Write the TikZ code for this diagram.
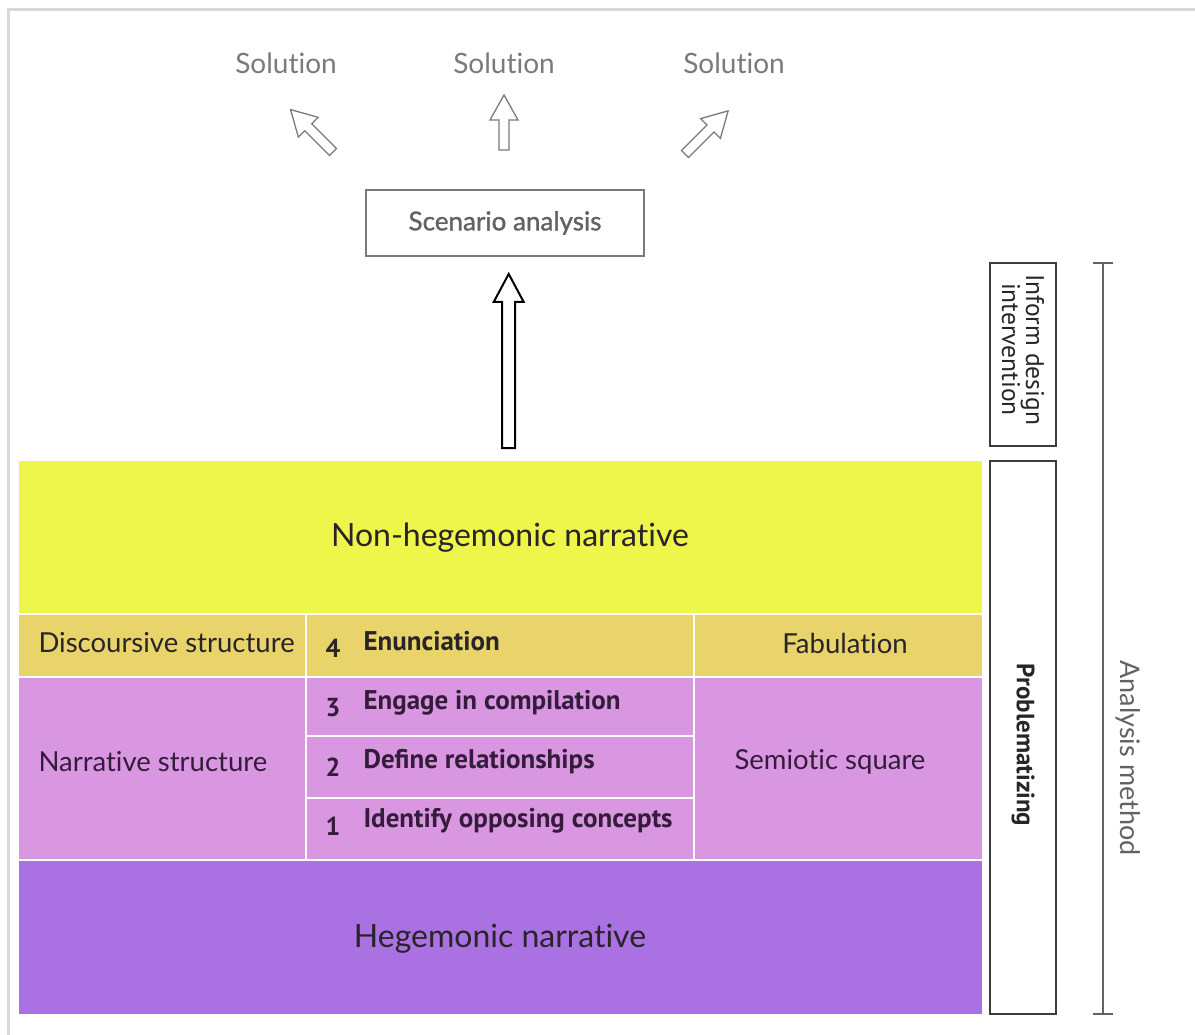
\documentclass[tikz,border=0pt]{standalone}
\usepackage{fontspec}
\usetikzlibrary{calc}
\setmainfont{Lato}[Ligatures={NoCommon}]
\newfontfamily\latosemi{Lato}[Ligatures={NoCommon}, BoldFont={Lato}, BoldFeatures={FakeBold=1.2}]
\newfontfamily\ptsans{PT Sans}
\definecolor{cyellow}{RGB}{238,245,75}
\definecolor{cgold}{RGB}{232,212,106}
\definecolor{cpink}{RGB}{217,151,226}
\definecolor{cpurple}{RGB}{170,113,226}
\definecolor{ctext}{RGB}{40,36,40}
\definecolor{cptext}{RGB}{52,28,58}
\definecolor{cgray}{RGB}{122,122,122}
\definecolor{cframe}{RGB}{216,216,216}
\definecolor{cbox}{RGB}{60,60,60}
\tikzset{
  pics/harrow/.style n args={4}{code={%
    \draw[pic actions] (0,-#4) -- (#1-#2,-#4) -- (#1-#2,-#3) -- (#1,0) -- (#1-#2,#3) -- (#1-#2,#4) -- (0,#4) -- cycle;}},
  cell/.style={fill=#1, draw=none, inner sep=0pt, anchor=north west},
  big/.style={font=\fontsize{32}{38}\selectfont, text=ctext},
  mid/.style={font=\fontsize{27.5}{32}\selectfont, text=ctext},
  stepno/.style={font=\ptsans\bfseries\fontsize{26}{30}\selectfont, text=ctext},
  steptxt/.style={font=\ptsans\bfseries\fontsize{27}{32}\selectfont, text=ctext, anchor=west},
  sol/.style={font=\fontsize{28}{33}\selectfont, text=cgray},
  solarrow/.style={draw=cgray, line width=1.3pt, line join=miter},
  sidebox/.style={draw=cbox, line width=2pt, inner sep=0pt},
  sidetxt/.style={font=\ptsans\fontsize{25.5}{24}\selectfont, text=ctext, rotate=-90, align=center},
}
\begin{document}
\begin{tikzpicture}[x=1pt,y=-1pt]
\useasboundingbox (0,0) rectangle (1195,1035);
% frame
\draw[cframe, line width=3pt] (8.5,1035) -- (8.5,9.5) -- (1195,9.5);

% cells
\node[cell=cyellow, minimum width=963, minimum height=152] (nonheg) at (19,461) {};
\node[cell=cgold, minimum width=286, minimum height=61] (disc) at (19,615) {};
\node[cell=cgold, minimum width=386, minimum height=61] (enun) at (307,615) {};
\node[cell=cgold, minimum width=287, minimum height=61] (fab) at (695,615) {};
\node[cell=cpink, minimum width=286, minimum height=181] (narr) at (19,678) {};
\node[cell=cpink, minimum width=386, minimum height=57] (eng) at (307,678) {};
\node[cell=cpink, minimum width=386, minimum height=60] (def) at (307,737) {};
\node[cell=cpink, minimum width=386, minimum height=60] (ident) at (307,799) {};
\node[cell=cpink, minimum width=287, minimum height=181] (semio) at (695,678) {};
\node[cell=cpurple, minimum width=963, minimum height=153] (heg) at (19,861) {};

% texts in cells
\node[big] (tnonheg) at (510,538) {Non-hegemonic narrative};
\node[big] (theg) at (500,939) {Hegemonic narrative};
\node[mid, anchor=west] (tdisc) at (35,643) {Discoursive structure};
\node[mid, anchor=west, text=cptext] (tnarr) at (35,762) {Narrative structure};
\node[mid] (tfab) at (845,643) {Fabulation};
\node[mid, text=cptext] (tsemio) at (830,762) {Semiotic square};

\node[stepno] (n4) at (333,648) {4};
\node[steptxt] (s4) at (360,641) {Enunciation};
\node[stepno, text=cptext] (n3) at (333,708) {3};
\node[steptxt, text=cptext] (s3) at (360,703) {Engage in compilation};
\node[stepno, text=cptext] (n2) at (333,767) {2};
\node[steptxt, text=cptext] (s2) at (360,762) {Define relationships};
\node[stepno, text=cptext] (n1) at (333,826) {1};
\node[steptxt, text=cptext] (s1) at (360,821) {Identify opposing concepts};

% scenario box
\node[draw=cgray, line width=1.3pt, minimum width=278, minimum height=66, inner sep=0pt,
      font=\latosemi\bfseries\fontsize{26}{30}\selectfont, text=cgray!80!black] (scen) at (505,223) {Scenario analysis};

% big arrow from non-hegemonic narrative to scenario analysis
\pic[draw=black, line width=2pt, line join=miter, rotate=90] at ($(nonheg.north)+(8,-13)$) {harrow={174}{28}{15}{6.5}};

% solutions
\node[sol] (sol1) at (286,63) {Solution};
\node[sol] (sol2) at (504,63) {Solution};
\node[sol] (sol3) at (734,63) {Solution};
\pic[solarrow, rotate=135] at (333,152) {harrow={60}{25}{14}{5}};
\pic[solarrow, rotate=90] at (504,150) {harrow={55}{25}{14}{5}};
\pic[solarrow, rotate=45] at (685,154) {harrow={61}{25}{14}{5}};

% side boxes
\node[sidebox, minimum width=66, minimum height=183] (inform) at (1023,354.5) {};
\node[sidetxt] (tinform) at ([yshift=5]inform.center) {Inform design\\intervention};
\node[sidebox, minimum width=66, minimum height=553] (prob) at (1023,737.5) {};
\node[sidetxt, font=\ptsans\bfseries\fontsize{25}{25}\selectfont] (tprob) at (1023,745) {Problematizing};

% analysis method bracket
\coordinate (bt) at (1103,263);
\coordinate (bb) at (1103,1014);
\draw[cgray!80!black, line width=1.3pt] (bt) -- (bb);
\draw[cgray!80!black, line width=1.3pt] ([xshift=-10]bt) -- ([xshift=10]bt);
\draw[cgray!80!black, line width=1.3pt] ([xshift=-10]bb) -- ([xshift=10]bb);
\node[font=\fontsize{27}{27}\selectfont, text=cgray!80!black, rotate=-90] (tanal) at (1128,758) {Analysis method};
\end{tikzpicture}
\end{document}
